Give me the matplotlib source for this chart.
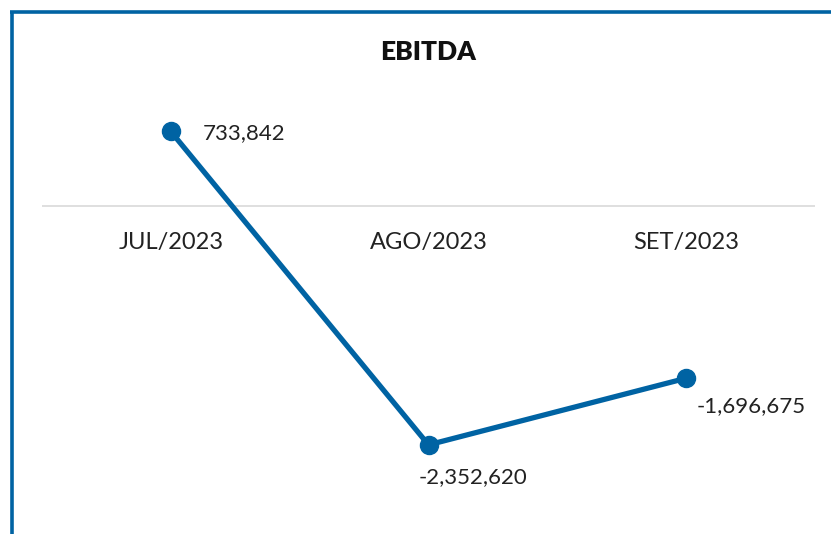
import matplotlib.pyplot as plt
from matplotlib.lines import Line2D

months = ["JUL/2023", "AGO/2023", "SET/2023"]
ebitda = [733842, -2352620, -1696675]
value_labels = ["733,842", "-2,352,620", "-1,696,675"]

blue = "#0063A3"
plt.rcParams['font.family'] = ['Lato', 'DejaVu Sans']

fig = plt.figure(figsize=(8.31, 5.34), dpi=100)
# axes spans x 42..815 px, y 80..500 px (top-origin)
ax = fig.add_axes([42 / 831, 1 - 500 / 534, (815 - 42) / 831, 420 / 534])

x = list(range(len(months)))
ax.plot(x, ebitda, color=blue, lw=3.8, marker='o', ms=13, solid_capstyle='round', zorder=3)

ax.set_xlim(-0.5, 2.5)
ax.set_ylim(-(500 - 206) * 9850, (206 - 80) * 9850)
ax.axhline(0, color='#d9d9d9', lw=1.2, zorder=1)
for s in ax.spines.values():
    s.set_visible(False)
ax.set_yticks([])
ax.set_xticks([])

# category labels sit just below the zero line
for i, m in enumerate(months):
    ax.annotate(m, (i, 0), xytext=(0, -26), textcoords='offset points',
                ha='center', va='center', fontsize=17, color='#222222')

offsets = [((23, -1), 'left'), ((32, -23), 'center'), ((47, -20), 'center')]
for i, (lab, (off, ha)) in enumerate(zip(value_labels, offsets)):
    ax.annotate(lab, (i, ebitda[i]), xytext=off, textcoords='offset points',
                ha=ha, va='center', fontsize=16, color='#222222')

fig.text(428 / 831, 1 - 52 / 534, "EBITDA", ha='center', va='center',
         fontsize=19, fontweight='heavy', color='#111111')

# blue frame lines at top and left
fig.add_artist(Line2D([11.5 / 831, 11.5 / 831], [0, 1 - 12 / 534], color=blue, lw=2.6,
                      transform=fig.transFigure, solid_capstyle='butt'))
fig.add_artist(Line2D([10 / 831, 1], [1 - 12 / 534, 1 - 12 / 534], color=blue, lw=2.6,
                      transform=fig.transFigure, solid_capstyle='butt'))

fig.savefig("out.png", dpi=100)
